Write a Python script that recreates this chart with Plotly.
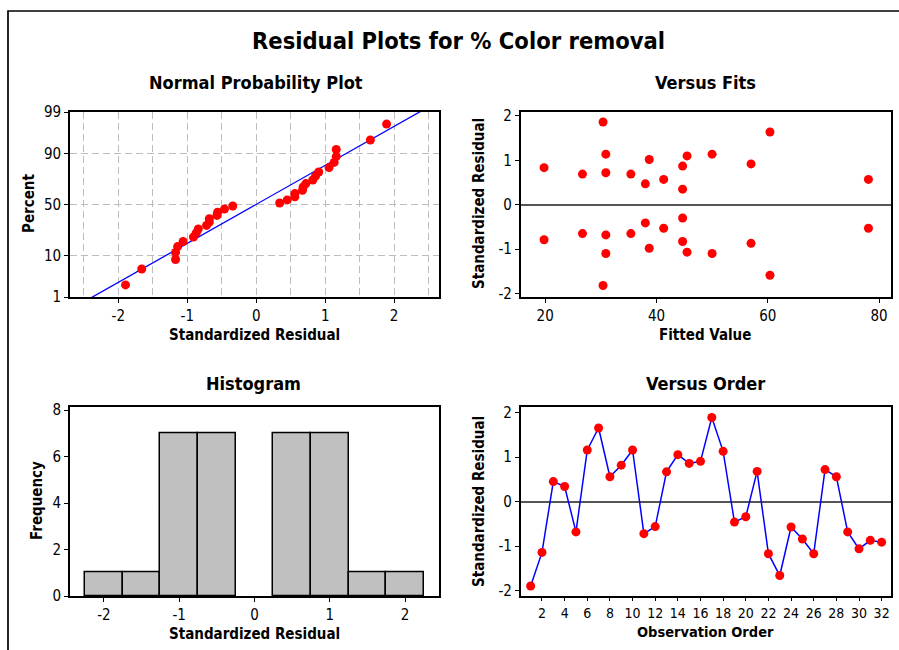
import numpy as np
import plotly.graph_objects as go
from statistics import NormalDist

# ---------------- data ----------------
order_residuals = [-1.895, -1.14, 0.45, 0.34, -0.68, 1.16, 1.655, 0.56, 0.82, 1.16,
                   -0.72, -0.56, 0.67, 1.056, 0.86, 0.906, 1.89, 1.13, -0.46, -0.34,
                   0.68, -1.17, -1.66, -0.57, -0.84, -1.17, 0.72, 0.56, -0.68, -1.06,
                   -0.87, -0.91]
observation = list(range(1, 33))

fitted_values = [19.8, 19.8, 26.7, 26.7, 30.4, 30.4, 30.9, 30.9, 30.9, 30.9,
                 35.4, 35.4, 38.0, 38.0, 38.7, 38.7, 41.3, 41.3, 44.7, 44.7,
                 44.7, 44.7, 45.5, 45.5, 50.0, 50.0, 57.0, 57.0, 60.4, 60.4,
                 78.1, 78.1]
fit_residuals = [0.835, -0.79, 0.69, -0.65, 1.865, -1.82, 1.14, -1.10, 0.72, -0.68,
                 0.69, -0.65, 0.47, -0.41, 1.02, -0.98, 0.57, -0.53, 0.87, -0.83,
                 0.35, -0.30, 1.10, -1.07, 1.14, -1.10, 0.92, -0.87, 1.64, -1.59,
                 0.57, -0.53]

pct_ticks = [1, 10, 50, 90, 99]
fits_ticks = [20, 40, 60, 80]
hist_xticks = [-2, -1, 0, 1, 2]
hist_yticks = [0, 2, 4, 6, 8]
order_xticks = list(range(2, 33, 2))
resid_ticks = [-2, -1, 0, 1, 2]

# ---------------- derived: normal probability plot ----------------
nd = NormalDist()
res = np.array(order_residuals)
n = len(res)
sorted_res = np.sort(res)
ranks = np.arange(1, n + 1)
z_pos = [nd.inv_cdf((i - 0.3) / (n + 0.4)) for i in ranks]
mu, sd = res.mean(), res.std(ddof=1)
z_line = np.array([-2.6, 2.6])
x_line = mu + sd * z_line
pct_z = [nd.inv_cdf(p / 100) for p in pct_ticks]

W, H = 899, 650
def px(x):
    return x / W
def py(y):
    return 1 - y / H

FONT = "DejaVu Sans Condensed, DejaVu Sans, Verdana, sans-serif"
RED = "#ff0000"
BLUE = "#0000ff"

fig = go.Figure()

# normal probability
fig.add_trace(go.Scatter(x=x_line, y=z_line, mode="lines", line=dict(color=BLUE, width=1.3),
                         xaxis="x", yaxis="y", showlegend=False, hoverinfo="skip"))
fig.add_trace(go.Scatter(x=sorted_res, y=z_pos, mode="markers", marker=dict(color=RED, size=9),
                         xaxis="x", yaxis="y", showlegend=False))
# versus fits
fig.add_trace(go.Scatter(x=fitted_values, y=fit_residuals, mode="markers",
                         marker=dict(color=RED, size=9), xaxis="x2", yaxis="y2", showlegend=False))
# histogram
fig.add_trace(go.Histogram(x=order_residuals, xbins=dict(start=-2.25, end=2.25, size=0.5),
                           autobinx=False, marker=dict(color="#c0c0c0", line=dict(color="black", width=1.5)),
                           xaxis="x3", yaxis="y3", showlegend=False))
# versus order
fig.add_trace(go.Scatter(x=observation, y=order_residuals, mode="lines+markers",
                         line=dict(color=BLUE, width=1.5), marker=dict(color=RED, size=9),
                         xaxis="x4", yaxis="y4", showlegend=False))

axis_common = dict(showline=True, linecolor="black", linewidth=1.7, mirror=True,
                   ticks="outside", ticklen=4, tickcolor="black", tickwidth=1,
                   tickfont=dict(family=FONT, size=15, color="black"),
                   zeroline=False, showgrid=False, fixedrange=True, automargin=False)

left_dom = [px(70), px(439)]
right_dom = [px(520.7), px(890.7)]
top_dom = [py(297), py(112)]
bot_dom = [py(596), py(407.3)]

GRID = "#bdbdbd"
fig.update_layout(
    template="none",
    width=W, height=H, margin=dict(l=0, r=0, t=0, b=0, autoexpand=False),
    paper_bgcolor="white", plot_bgcolor="white",
    font=dict(family=FONT, color="black"),
    bargap=0, showlegend=False,
    xaxis=dict(axis_common, domain=left_dom, anchor="y", range=[-2.70, 2.65],
               tickvals=[-2, -1, 0, 1, 2], ticktext=["-2", "-1", "0", "1", "2"],
               showgrid=True, gridcolor=GRID, griddash="7px,4px", gridwidth=1.3,
               minor=dict(dtick=0.5, tick0=0, showgrid=True, gridcolor=GRID,
                          griddash="7px,4px", gridwidth=1.3, ticks="")),
    yaxis=dict(axis_common, domain=top_dom, anchor="x", range=[pct_z[0], pct_z[-1]],
               tickvals=pct_z, ticktext=[str(p) for p in pct_ticks],
               showgrid=True, gridcolor=GRID, griddash="7px,4px", gridwidth=1.3),
    xaxis2=dict(axis_common, domain=right_dom, anchor="y2", range=[15.6, 82.1],
                tickvals=fits_ticks),
    yaxis2=dict(axis_common, domain=top_dom, anchor="x2", range=[-2.08, 2.09],
                tickvals=resid_ticks, ticktext=["-2", "-1", "0", "1", "2"],
                zeroline=True, zerolinecolor="#555555", zerolinewidth=1.5),
    xaxis3=dict(axis_common, domain=left_dom, anchor="y3", range=[-2.45, 2.45],
                tickvals=hist_xticks, ticktext=["-2", "-1", "0", "1", "2"]),
    yaxis3=dict(axis_common, domain=bot_dom, anchor="x3", range=[0, 8.12],
                tickvals=hist_yticks),
    xaxis4=dict(axis_common, domain=right_dom, anchor="y4", range=[0.12, 32.8],
                tickvals=order_xticks, ticklen=3,
                tickfont=dict(family=FONT, size=14, color="black")),
    yaxis4=dict(axis_common, domain=bot_dom, anchor="x4", range=[-2.12, 2.12],
                tickvals=resid_ticks, ticktext=["-2", "-1", "0", "1", "2"],
                zeroline=True, zerolinecolor="#555555", zerolinewidth=1.5),
)

# outer frame
fig.add_shape(type="rect", xref="paper", yref="paper", x0=px(8), y0=-0.02, x1=1.02, y1=py(11),
              line=dict(color="black", width=1.7), fillcolor="rgba(0,0,0,0)", layer="above")

def ann(text, x, y, size, bold=True, angle=0):
    fig.add_annotation(text=f"<b>{text}</b>" if bold else text, x=px(x), y=py(y),
                       xref="paper", yref="paper", showarrow=False, textangle=angle,
                       xanchor="center", yanchor="middle",
                       font=dict(family=FONT, size=size, color="black"))

ann("Residual Plots for % Color removal", 458, 41, 23.5)
ann("Normal Probability Plot", 256, 83, 18)
ann("Versus Fits", 705, 83, 18)
ann("Histogram", 253, 383, 18)
ann("Versus Order", 705, 383, 18)

ann("Standardized Residual", 254, 335, 15)
ann("Fitted Value", 705, 335, 15)
ann("Standardized Residual", 254, 634, 15)
ann("Observation Order", 705, 632, 14.5)

ann("Percent", 29, 204, 15, angle=-90)
ann("Standardized Residual", 479, 204, 15, angle=-90)
ann("Frequency", 37, 501, 15, angle=-90)
ann("Standardized Residual", 479, 502, 15, angle=-90)

fig.write_html("out.html")
